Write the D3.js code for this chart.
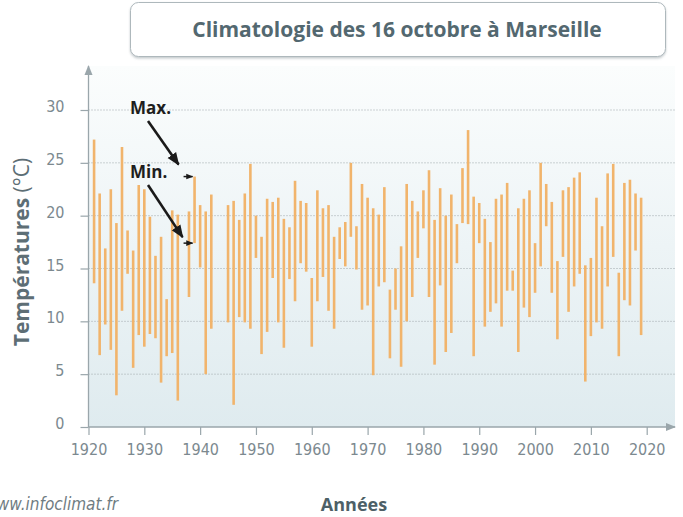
<!DOCTYPE html>
<html>
<head>
<meta charset="utf-8">
<script src="https://cdn.jsdelivr.net/npm/d3@7"></script>
<style>
  body { margin: 0; background: #fff; }
  svg { display: block; }
</style>
</head>
<body>
<svg></svg>
<script>
const years = [
  1921, 1922, 1923, 1924, 1925, 1926, 1927, 1928, 1929, 1930,
  1931, 1932, 1933, 1934, 1935, 1936, 1938, 1939, 1940,
  1941, 1942, 1945, 1946, 1947, 1948, 1949, 1950,
  1951, 1952, 1953, 1954, 1955, 1956, 1957, 1958, 1959, 1960,
  1961, 1962, 1963, 1964, 1965, 1966, 1967, 1968, 1969, 1970,
  1971, 1972, 1973, 1974, 1975, 1976, 1977, 1978, 1979, 1980,
  1981, 1982, 1983, 1984, 1985, 1986, 1987, 1988, 1989, 1990,
  1991, 1992, 1993, 1994, 1995, 1996, 1997, 1998, 1999, 2000,
  2001, 2002, 2003, 2004, 2005, 2006, 2007, 2008, 2009, 2010,
  2011, 2012, 2013, 2014, 2015, 2016, 2017, 2018, 2019,
]
const tmax = [
  27.2, 22.1, 16.9, 22.5, 19.3, 26.5, 18.6, 16.7, 22.9, 22.5,
  19.9, 16.2, 18.0, 12.1, 20.5, 20.1, 20.4, 23.7, 21.0,
  20.4, 22.0, 21.0, 21.4, 19.6, 22.1, 24.9, 20.0,
  18.0, 21.6, 21.3, 21.7, 19.7, 18.9, 23.3, 21.4, 21.2, 14.1,
  22.4, 20.7, 21.0, 18.0, 18.9, 19.4, 25.0, 19.0, 23.0, 21.7,
  20.7, 20.1, 22.7, 13.0, 15.0, 17.1, 23.0, 21.4, 20.4, 22.4,
  24.3, 19.6, 22.6, 20.0, 22.0, 19.2, 24.5, 28.1, 21.8, 21.2,
  19.7, 17.5, 21.6, 22.0, 23.1, 14.8, 20.7, 21.6, 22.4, 17.4,
  25.0, 23.0, 21.3, 15.7, 22.4, 22.7, 23.6, 24.1, 15.3, 16.0,
  21.7, 19.0, 24.0, 24.9, 14.6, 23.1, 23.4, 22.1, 21.7,
]
const tmin = [
  13.6, 6.8, 9.7, 7.3, 3.0, 11.0, 14.5, 5.6, 8.7, 7.6,
  8.8, 8.4, 4.2, 6.7, 7.0, 2.5, 12.3, 17.4, 15.1,
  5.0, 9.3, 9.9, 2.1, 10.4, 9.9, 9.3, 16.0,
  6.9, 9.0, 14.1, 9.9, 7.5, 14.0, 11.9, 15.5, 14.7, 7.6,
  11.9, 14.2, 11.0, 9.3, 15.9, 15.2, 18.0, 14.9, 11.1, 11.5,
  4.9, 13.3, 13.7, 6.5, 11.1, 5.7, 10.0, 12.3, 16.0, 18.8,
  12.3, 5.9, 13.4, 7.1, 8.9, 15.5, 19.3, 19.2, 6.7, 17.4,
  9.5, 10.9, 11.7, 9.5, 12.9, 12.9, 7.1, 11.3, 10.4, 12.7,
  15.2, 19.0, 12.7, 8.3, 16.1, 10.9, 13.3, 14.5, 4.3, 8.6,
  9.9, 9.3, 13.3, 16.1, 6.7, 12.0, 11.5, 16.7, 8.7,
]
const yTicks = [0, 5, 10, 15, 20, 25, 30]
const xTicks = [1920, 1930, 1940, 1950, 1960, 1970, 1980, 1990, 2000, 2010, 2020]
const annotatedYear = 1939

const svgWidth = 683
const svgHeight = 517
const plotLeft = 88.5
const plotRight = 675
const plotTop = 66
const plotBottom = 427
const axisColor = '#9aa6ab'
const labelColor = '#7c898f'

const svg = d3.select('svg')
  .attr('width', svgWidth)
  .attr('height', svgHeight)

const xScale = d3.scaleLinear()
  .domain([1920, 2020])
  .range([plotLeft, 646.7])

const yScale = d3.scaleLinear()
  .domain([0, 30])
  .range([plotBottom, 110])

const defs = svg.append('defs')
const grad = defs.append('linearGradient')
  .attr('id', 'bg')
  .attr('x1', 0).attr('y1', 0)
  .attr('x2', 0).attr('y2', 1)
grad.append('stop').attr('offset', '0%').attr('stop-color', '#fbfdfd')
grad.append('stop').attr('offset', '100%').attr('stop-color', '#dfebef')

const shadow = defs.append('filter').attr('id', 'shadow')
  .attr('x', '-5%').attr('y', '-20%').attr('width', '110%').attr('height', '150%')
shadow.append('feDropShadow')
  .attr('dx', 0).attr('dy', 1.5).attr('stdDeviation', 1.2)
  .attr('flood-color', '#7d8a90').attr('flood-opacity', 0.45)

const arrow = (id, color, size) => defs.append('marker')
  .attr('id', id)
  .attr('viewBox', '0 0 10 10')
  .attr('refX', 9).attr('refY', 5)
  .attr('markerWidth', size).attr('markerHeight', size)
  .attr('markerUnits', 'userSpaceOnUse')
  .attr('orient', 'auto')
  .append('path')
  .attr('d', 'M0,1 L10,5 L0,9 Z')
  .attr('fill', color)
arrow('axisHead', axisColor, 10)
arrow('blackHead', '#1a1a1a', 13)
arrow('smallHead', '#1a1a1a', 7)

// plot background
svg.append('rect')
  .attr('x', plotLeft)
  .attr('y', plotTop)
  .attr('width', plotRight - plotLeft)
  .attr('height', plotBottom - plotTop)
  .attr('fill', 'url(#bg)')

// dotted gridlines
svg.selectAll('.grid')
  .data(yTicks.filter(t => t > 0))
  .enter()
  .append('line')
  .attr('class', 'grid')
  .attr('x1', plotLeft)
  .attr('x2', plotRight)
  .attr('y1', d => yScale(d))
  .attr('y2', d => yScale(d))
  .attr('stroke', '#9ea7ab')
  .attr('stroke-width', 1)
  .attr('stroke-dasharray', '1,2')

// min-max bars
svg.selectAll('.bar')
  .data(years)
  .enter()
  .append('line')
  .attr('class', 'bar')
  .attr('x1', d => xScale(d))
  .attr('x2', d => xScale(d))
  .attr('y1', (d, i) => yScale(tmax[i]))
  .attr('y2', (d, i) => yScale(tmin[i]))
  .attr('stroke', '#f1b46c')
  .attr('stroke-width', 2.6)

// axes
const yAxis = svg.append('g')
  .attr('transform', `translate(${plotLeft},0)`)
  .call(d3.axisLeft(yScale).tickValues(yTicks).tickSize(8).tickPadding(16))
const xAxis = svg.append('g')
  .attr('transform', `translate(0,${plotBottom})`)
  .call(d3.axisBottom(xScale).tickValues(xTicks).tickFormat(d3.format('d')).tickSize(8).tickPadding(9))

;[yAxis, xAxis].forEach(g => {
  g.select('.domain').remove()
  g.selectAll('.tick line').attr('stroke', axisColor).attr('stroke-width', 1.2)
  g.selectAll('.tick text')
    .attr('fill', labelColor)
    .style('font-family', '"Liberation Sans Narrow", "DejaVu Sans Condensed", sans-serif')
    .style('font-size', '16px')
})
yAxis.selectAll('.tick text').attr('dy', '0.1em')

svg.append('line')
  .attr('x1', plotLeft).attr('x2', plotLeft)
  .attr('y1', plotBottom).attr('y2', plotTop)
  .attr('stroke', axisColor).attr('stroke-width', 1.3)
  .attr('marker-end', 'url(#axisHead)')
svg.append('line')
  .attr('x1', plotLeft).attr('x2', plotRight)
  .attr('y1', plotBottom).attr('y2', plotBottom)
  .attr('stroke', axisColor).attr('stroke-width', 1.3)
  .attr('marker-end', 'url(#axisHead)')

// title box
svg.append('rect')
  .attr('x', 130.5).attr('y', 2.5)
  .attr('width', 535).attr('height', 54)
  .attr('rx', 8)
  .attr('fill', '#fff')
  .attr('stroke', '#aeb8bc')
  .attr('filter', 'url(#shadow)')
svg.append('text')
  .attr('x', 397).attr('y', 37)
  .attr('text-anchor', 'middle')
  .attr('fill', '#536870')
  .style('font-family', '"Open Sans", sans-serif')
  .style('font-weight', 'bold')
  .style('font-size', '21px')
  .text('Climatologie des 16 octobre à Marseille')

// axis titles
const yTitle = svg.append('text')
  .attr('transform', 'translate(29,252) rotate(-90)')
  .attr('text-anchor', 'middle')
  .attr('fill', '#5d6e75')
  .style('font-family', '"Open Sans", sans-serif')
  .style('font-size', '21px')
yTitle.append('tspan').style('font-weight', 'bold').text('Températures ')
yTitle.append('tspan').text('(°C)')

svg.append('text')
  .attr('x', 354).attr('y', 511)
  .attr('text-anchor', 'middle')
  .attr('fill', '#4d5f66')
  .style('font-family', '"Open Sans", sans-serif')
  .style('font-weight', 'bold')
  .style('font-size', '18px')
  .text('Années')

svg.append('text')
  .attr('x', 118).attr('y', 510)
  .attr('text-anchor', 'end')
  .attr('fill', '#6f7c82')
  .style('font-family', '"Liberation Sans Narrow", "DejaVu Sans Condensed", sans-serif')
  .style('font-style', 'italic')
  .style('font-size', '17px')
  .text('www.infoclimat.fr')

// Max. / Min. annotation on one year
const ai = years.indexOf(annotatedYear)
const ax = xScale(annotatedYear)
const notes = [
  { label: 'Max.', y: yScale(tmax[ai]), textY: 114, lineY: 121, dx: 16, dy: 12 },
  { label: 'Min.', y: yScale(tmin[ai]), textY: 178, lineY: 185, dx: 12, dy: 6 },
]
notes.forEach(n => {
  svg.append('text')
    .attr('x', 130).attr('y', n.textY)
    .attr('fill', '#1e1e1e')
    .style('font-family', '"Open Sans", sans-serif')
    .style('font-weight', 'bold')
    .style('font-size', '17px')
    .text(n.label)
  svg.append('line')
    .attr('x1', 148).attr('y1', n.lineY)
    .attr('x2', ax - n.dx).attr('y2', n.y - n.dy)
    .attr('stroke', '#1a1a1a').attr('stroke-width', 2.6)
    .attr('marker-end', 'url(#blackHead)')
  svg.append('line')
    .attr('x1', ax - 11).attr('y1', n.y)
    .attr('x2', ax - 2).attr('y2', n.y)
    .attr('stroke', '#1a1a1a').attr('stroke-width', 1.5)
    .attr('marker-end', 'url(#smallHead)')
})
</script>
</body>
</html>
